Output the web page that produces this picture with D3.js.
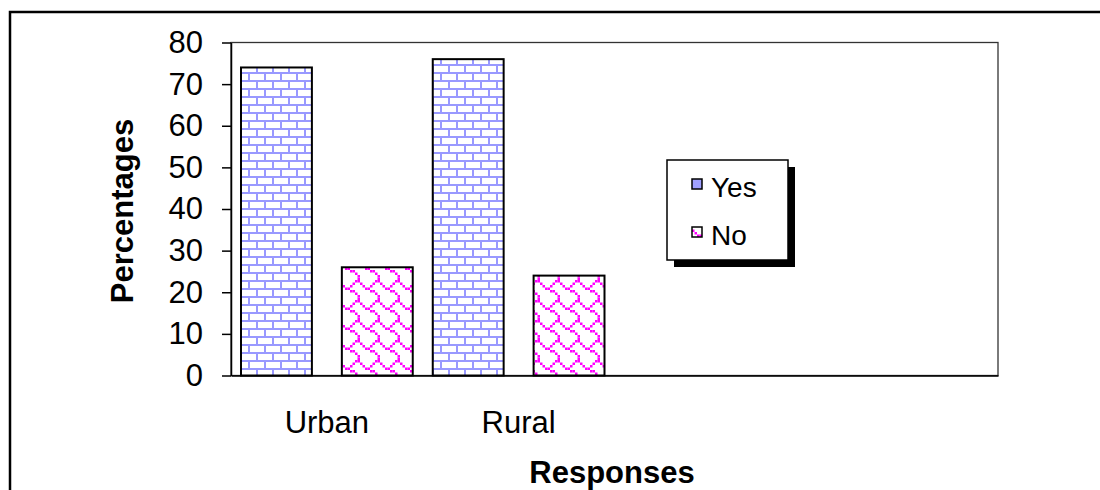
<!DOCTYPE html>
<html>
<head>
<meta charset="utf-8">
<script src="https://cdn.jsdelivr.net/npm/d3@7"></script>
<style>
  body { margin: 0; background: #fff; }
  svg { display: block; font-family: "Liberation Sans", Arial, sans-serif; }
</style>
</head>
<body>
<div id="chart"></div>
<script>
var categories = ["Urban", "Rural"];
var seriesNames = ["Yes", "No"];
var yesValues = [74, 76];
var noValues = [26, 24];
var yTicks = [0, 10, 20, 30, 40, 50, 60, 70, 80];
var slotCount = 4; // the plot keeps room for 4 category slots, only 2 are used

// 8x8 fill bitmaps, like the office chart fills
var brickBits = ["11111111", "10000000", "10000000", "10000000", "11111111", "00001000", "00001000", "00001000"];
var shingleBits = ["00000011", "10000100", "01001000", "00110000", "00001100", "00000010", "00000001", "00000001"];

var width = 1100;
var height = 490;
var plot = { left: 231, right: 998, top: 42.5, bottom: 375.5 };

var svg = d3.select("#chart")
  .append("svg")
  .attr("width", width)
  .attr("height", height);

var defs = svg.append("defs");

function addBitmapPattern(id, bits, px, color) {
  var size = bits.length * px;
  var p = defs.append("pattern")
    .attr("id", id)
    .attr("patternUnits", "userSpaceOnUse")
    .attr("width", size)
    .attr("height", size);
  p.append("rect").attr("width", size).attr("height", size).attr("fill", "#fff");
  bits.forEach(function(row, r) {
    row.split("").forEach(function(b, c) {
      if (b == "1") {
        p.append("rect")
          .attr("x", c * px)
          .attr("y", r * px)
          .attr("width", px)
          .attr("height", px)
          .attr("fill", color);
      }
    });
  });
}

addBitmapPattern("brick", brickBits, 2, "#9999ff");
addBitmapPattern("shingle", shingleBits, 2.5, "#ff00ff");

var fills = { Yes: "url(#brick)", No: "url(#shingle)" };

// outer frame (only top and left visible)
svg.append("path")
  .attr("d", "M10," + height + "V12H" + width)
  .attr("fill", "none")
  .attr("stroke", "#000")
  .attr("stroke-width", 2.5);

var x0 = d3.scaleBand()
  .domain(d3.range(slotCount))
  .range([plot.left, plot.right])
  .padding(0);

var x1 = d3.scaleBand()
  .domain(seriesNames)
  .range([10, x0.bandwidth() - 10])
  .paddingInner(0.297)
  .paddingOuter(0);

var y = d3.scaleLinear()
  .domain([0, 80])
  .range([plot.bottom, plot.top]);

// plot area border
svg.append("rect")
  .attr("x", plot.left)
  .attr("y", plot.top)
  .attr("width", plot.right - plot.left)
  .attr("height", plot.bottom - plot.top)
  .attr("fill", "none")
  .attr("stroke", "#333")
  .attr("stroke-width", 1.3);

var rows = [];
categories.forEach(function(c, i) {
  rows.push({ cat: i, series: "Yes", value: yesValues[i] });
  rows.push({ cat: i, series: "No", value: noValues[i] });
});

svg.selectAll(".bar")
  .data(rows)
  .enter().append("rect")
  .attr("class", "bar")
  .attr("x", function(d) { return x0(d.cat) + x1(d.series); })
  .attr("y", function(d) { return y(d.value); })
  .attr("width", x1.bandwidth())
  .attr("height", function(d) { return y(0) - y(d.value); })
  .attr("fill", function(d) { return fills[d.series]; })
  .attr("stroke", "#000")
  .attr("stroke-width", 2);

var yAxis = svg.append("g")
  .attr("transform", "translate(" + plot.left + ",0)")
  .call(d3.axisLeft(y).tickValues(yTicks).tickSize(9).tickSizeOuter(0).tickPadding(19));

var xAxis = svg.append("g")
  .attr("transform", "translate(0," + plot.bottom + ")")
  .call(d3.axisBottom(x0)
    .tickValues(d3.range(categories.length))
    .tickFormat(function(i) { return categories[i]; })
    .tickSize(0)
    .tickSizeOuter(0)
    .tickPadding(35));

svg.selectAll(".domain, .tick line")
  .attr("stroke", "#000")
  .attr("stroke-width", 1.5);

svg.selectAll(".tick text")
  .attr("fill", "#000")
  .style("font-size", "31px")
  .style("font-family", "'Liberation Sans', Arial, sans-serif");

// axis titles
svg.append("text")
  .attr("transform", "translate(133,211) rotate(-90)")
  .attr("text-anchor", "middle")
  .style("font-size", "31px")
  .style("font-weight", "bold")
  .text("Percentages");

svg.append("text")
  .attr("x", 612)
  .attr("y", 483)
  .attr("text-anchor", "middle")
  .style("font-size", "31px")
  .style("font-weight", "bold")
  .text("Responses");

// legend
var legend = svg.append("g")
  .attr("transform", "translate(667,160)");

legend.append("rect")
  .attr("x", 7)
  .attr("y", 7)
  .attr("width", 121)
  .attr("height", 100)
  .attr("fill", "#000");

legend.append("rect")
  .attr("width", 121)
  .attr("height", 100)
  .attr("fill", "#fff")
  .attr("stroke", "#000")
  .attr("stroke-width", 1.5);

var legendFills = { Yes: "#a0a0ff", No: "url(#shingle)" };

var items = legend.selectAll(".item")
  .data(seriesNames)
  .enter().append("g")
  .attr("class", "item")
  .attr("transform", function(d, i) { return "translate(25," + (19 + i * 48) + ")"; });

items.append("rect")
  .attr("width", 10)
  .attr("height", 10)
  .attr("fill", function(d) { return legendFills[d]; })
  .attr("stroke", "#000")
  .attr("stroke-width", 1.5);

items.append("text")
  .attr("x", 19)
  .attr("y", 18)
  .style("font-size", "28px")
  .text(function(d) { return d; });
</script>
</body>
</html>
